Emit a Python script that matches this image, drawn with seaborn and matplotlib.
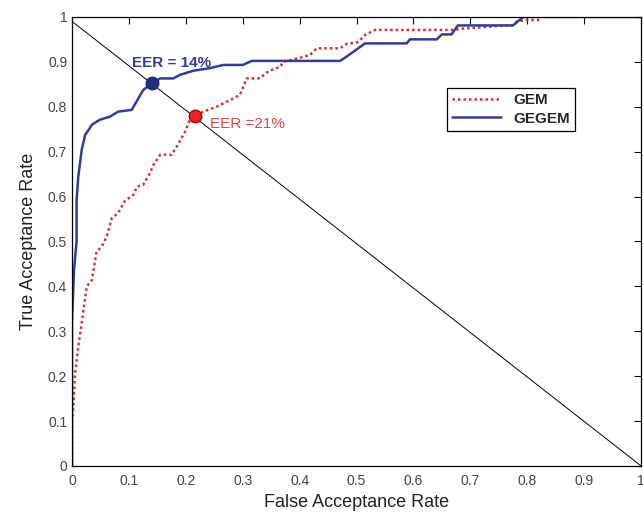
import matplotlib
matplotlib.use("Agg")
import matplotlib.pyplot as plt
import seaborn as sns
import pandas as pd

# ---- data ----
gegem_far = [0, 0, 0.0035, 0.008, 0.008, 0.011, 0.017, 0.023, 0.029, 0.035, 0.049, 0.067, 0.081,
             0.105, 0.125, 0.14, 0.155, 0.178, 0.19, 0.213, 0.243, 0.266, 0.30, 0.316, 0.471,
             0.483, 0.515, 0.588, 0.594, 0.641, 0.65, 0.667, 0.678, 0.775, 0.793, 1.0]
gegem_tar = [0, 0.32, 0.437, 0.5, 0.592, 0.644, 0.704, 0.737, 0.748, 0.76, 0.771, 0.778, 0.789,
             0.793, 0.837, 0.852, 0.863, 0.863, 0.871, 0.88, 0.886, 0.893, 0.893, 0.902, 0.902,
             0.912, 0.941, 0.941, 0.95, 0.95, 0.961, 0.961, 0.981, 0.981, 1.0, 1.0]

gem_far = [0, 0, 0.002, 0.005, 0.011, 0.015, 0.026, 0.035, 0.043, 0.052, 0.061, 0.07, 0.081, 0.093,
           0.108, 0.114, 0.125, 0.137, 0.143, 0.155, 0.175, 0.184, 0.199, 0.207, 0.216, 0.231,
           0.254, 0.278, 0.295, 0.307, 0.33, 0.345, 0.366, 0.371, 0.398, 0.418, 0.43, 0.471,
           0.483, 0.503, 0.515, 0.533, 0.67, 0.688, 0.776, 0.782, 0.799, 0.825]
gem_tar = [0, 0.1, 0.125, 0.2, 0.266, 0.3, 0.4, 0.414, 0.477, 0.488, 0.511, 0.552, 0.563, 0.59,
           0.604, 0.622, 0.626, 0.652, 0.67, 0.693, 0.693, 0.711, 0.745, 0.771, 0.78, 0.789,
           0.80, 0.815, 0.826, 0.863, 0.863, 0.879, 0.889, 0.9, 0.908, 0.915, 0.93, 0.93,
           0.94, 0.944, 0.96, 0.971, 0.971, 0.974, 0.982, 0.99, 0.993, 0.993]

diag_x = [0, 1]
diag_y = [0.99, 0]

eer_labels = ["EER = 14%", "EER =21%"]
eer_x = [0.14, 0.216]
eer_y = [0.852, 0.78]

ticks = [0, 0.1, 0.2, 0.3, 0.4, 0.5, 0.6, 0.7, 0.8, 0.9, 1]
tick_labels = ["0", "0.1", "0.2", "0.3", "0.4", "0.5", "0.6", "0.7", "0.8", "0.9", "1"]

BLUE = "#2e3d9e"
RED = "#e02a2a"

sns.set_style("white")
plt.rcParams['font.family'] = ['Liberation Sans', 'DejaVu Sans']

fig = plt.figure(figsize=(6.43, 5.12), dpi=100)
ax = fig.add_axes([0.112, 0.090, 0.885, 0.877])

sns.lineplot(x=diag_x, y=diag_y, ax=ax, color="black", linewidth=0.7, sort=False, estimator=None)
sns.lineplot(x=gem_far, y=gem_tar, ax=ax, color=RED, linewidth=1.8, linestyle=(0, (1, 1.2)),
             sort=False, estimator=None, label="GEM")
sns.lineplot(x=gegem_far, y=gegem_tar, ax=ax, color=BLUE, linewidth=1.8,
             sort=False, estimator=None, label="GEGEM")

ax.plot(eer_x[0], eer_y[0], 'o', ms=9, color="#1f2f80", mec="#1a2570", zorder=5)
ax.plot(eer_x[1], eer_y[1], 'o', ms=9, color="#ee2020", mec="#8a1010", zorder=5)

ax.text(0.105, 0.897, eer_labels[0], color=BLUE, fontsize=11, fontweight="bold", va="center")
ax.text(0.243, 0.761, eer_labels[1], color="#e04545", fontsize=11, va="center")

ax.set_xlim(0, 1)
ax.set_ylim(0, 1)
ax.set_xticks(ticks)
ax.set_xticklabels(tick_labels)
ax.set_yticks(ticks)
ax.set_yticklabels(tick_labels)
ax.tick_params(direction="in", length=5, width=0.8, top=True, right=True,
               labelsize=10, labelcolor="#444444", colors="black")
ax.tick_params(axis="x", pad=6)
for lab in ax.get_xticklabels() + ax.get_yticklabels():
    lab.set_color("#444444")
for s in ax.spines.values():
    s.set_color("black")
    s.set_linewidth(0.9)

ax.set_xlabel("False Acceptance Rate", fontsize=13, color="#222222", labelpad=4)
ax.set_ylabel("True Acceptance Rate", fontsize=13, color="#222222", labelpad=8)

leg = ax.legend(loc="upper left", bbox_to_anchor=(0.659, 0.842), borderaxespad=0,
                fancybox=False, framealpha=1, edgecolor="black", handlelength=3.2,
                prop={"weight": "bold", "size": 11}, borderpad=0.35, labelspacing=0.3)
leg.get_frame().set_linewidth(0.9)

fig.savefig("out.png", dpi=100)
